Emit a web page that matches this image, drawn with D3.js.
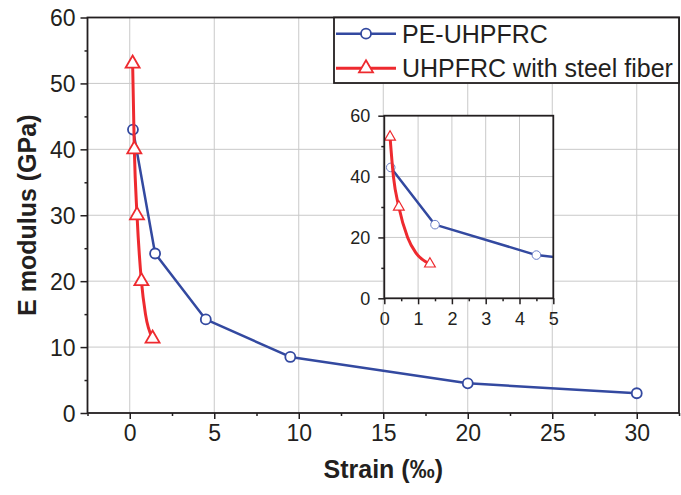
<!DOCTYPE html>
<html>
<head>
<meta charset="utf-8">
<script src="https://cdn.jsdelivr.net/npm/d3@7"></script>
<style>
  body { margin: 0; background: #fff; }
  text { font-family: Arial, "Liberation Sans", sans-serif; fill: #231f20; }
</style>
</head>
<body>
<svg id="chart" width="681" height="495"></svg>
<script>
// data
const seriesNames = ["PE-UHPFRC", "UHPFRC with steel fiber"];
const peStrain = [0.19, 1.5, 4.5, 9.5, 20, 30];
const peModulus = [43, 24.2, 14.2, 8.5, 4.5, 3.0];
const steelStrain = [0.17, 0.27, 0.43, 0.69, 0.93, 1.35];
const steelModulus = [53, 40, 30, 20, 15, 11.3];
const steelMarkersMain = [0, 1, 2, 3, 5];
const steelMarkersInset = [0, 2, 5];
const xTicks = [0, 5, 10, 15, 20, 25, 30];
const xMinor = [-2.5, 2.5, 7.5, 12.5, 17.5, 22.5, 27.5, 32.5];
const yTicks = [0, 10, 20, 30, 40, 50, 60];
const yMinor = [5, 15, 25, 35, 45, 55];
const insetXTicks = [0, 1, 2, 3, 4, 5];
const insetXMinor = [0.5, 1.5, 2.5, 3.5, 4.5];
const insetYTicks = [0, 20, 40, 60];
const insetYMinor = [10, 30, 50];

const BLUE = "#3349a0", RED = "#ee2a2f", GRID = "#c9c9c9", INK = "#231f20";

const pe = peStrain.map((x, i) => ({x: x, y: peModulus[i]}));
const steel = steelStrain.map((x, i) => ({x: x, y: steelModulus[i]}));

const svg = d3.select("#chart");

// ---------- main plot ----------
const margin = {left: 87.5, right: 2, top: 17.5, bottom: 82};
const W = 681, H = 495;
const x = d3.scaleLinear().domain([-2.5, 32.5]).range([margin.left, W - margin.right]);
const y = d3.scaleLinear().domain([0, 60]).range([H - margin.bottom, margin.top]);

const main = svg.append("g").attr("class", "main");

// grid
main.append("g").selectAll("line").data(xTicks).enter().append("line")
    .attr("x1", d => x(d)).attr("x2", d => x(d))
    .attr("y1", y(0)).attr("y2", y(60))
    .attr("stroke", GRID).attr("stroke-width", 1);
main.append("g").selectAll("line").data(yTicks.filter(d => d > 0 && d < 60)).enter().append("line")
    .attr("x1", x(-2.5)).attr("x2", x(32.5))
    .attr("y1", d => y(d)).attr("y2", d => y(d))
    .attr("stroke", GRID).attr("stroke-width", 1);

function styleAxis(g, fontSize) {
    g.select(".domain").remove();
    g.selectAll("line").attr("stroke", INK).attr("stroke-width", 1.5);
    g.selectAll("text").attr("font-size", fontSize).attr("fill", INK).style("font-family", "Arial, 'Liberation Sans', sans-serif");
}

const xAxis = main.append("g").attr("transform", "translate(0," + y(0) + ")")
    .call(d3.axisBottom(x).tickValues(xTicks).tickSize(6).tickPadding(6).tickFormat(d3.format("d")));
styleAxis(xAxis, 23);
const xAxisMinor = main.append("g").attr("transform", "translate(0," + y(0) + ")")
    .call(d3.axisBottom(x).tickValues(xMinor).tickSize(3).tickFormat(""));
styleAxis(xAxisMinor, 23);

const yAxis = main.append("g").attr("transform", "translate(" + x(-2.5) + ",0)")
    .call(d3.axisLeft(y).tickValues(yTicks).tickSize(7).tickPadding(5).tickFormat(d3.format("d")));
styleAxis(yAxis, 23);
yAxis.selectAll("text").attr("dy", "0.36em");
const yAxisMinor = main.append("g").attr("transform", "translate(" + x(-2.5) + ",0)")
    .call(d3.axisLeft(y).tickValues(yMinor).tickSize(3).tickFormat(""));
styleAxis(yAxisMinor, 23);

// frame
main.append("rect")
    .attr("x", x(-2.5)).attr("y", y(60))
    .attr("width", x(32.5) - x(-2.5)).attr("height", y(0) - y(60))
    .attr("fill", "none").attr("stroke", INK).attr("stroke-width", 1.8);

// axis titles
svg.append("text")
    .attr("x", (x(-2.5) + x(32.5)) / 2).attr("y", 478)
    .attr("text-anchor", "middle").attr("font-size", 25).attr("font-weight", "bold")
    .text("Strain (\u2030)");
svg.append("text")
    .attr("transform", "translate(36," + ((y(0) + y(60)) / 2) + ") rotate(-90)")
    .attr("text-anchor", "middle").attr("font-size", 25).attr("font-weight", "bold")
    .text("E modulus (GPa)");

const triangle = d3.symbol().type(d3.symbolTriangle);

function drawSeries(g, xs, ys, opts) {
    const line = d3.line().x(d => xs(d.x)).y(d => ys(d.y));
    // blue line + markers
    g.append("path").datum(pe)
        .attr("d", line)
        .attr("fill", "none").attr("stroke", BLUE).attr("stroke-width", opts.lw)
        .attr("stroke-linejoin", "round");
    g.append("g").selectAll("circle").data(pe).enter().append("circle")
        .attr("cx", d => xs(d.x)).attr("cy", d => ys(d.y)).attr("r", opts.r)
        .attr("fill", "#fff").attr("stroke", opts.circleStroke).attr("stroke-width", opts.circleSw);
    // red line + markers
    g.append("path").datum(steel)
        .attr("d", line.curve(d3.curveMonotoneX))
        .attr("fill", "none").attr("stroke", RED).attr("stroke-width", opts.lw + 0.5)
        .attr("stroke-linejoin", "round");
    g.append("g").selectAll("path").data(opts.steelMarkers.map(i => steel[i])).enter().append("path")
        .attr("transform", d => "translate(" + xs(d.x) + "," + ys(d.y) + ")")
        .attr("d", triangle.size(opts.triSize))
        .attr("fill", "#fff").attr("stroke", RED).attr("stroke-width", opts.triSw);
}

drawSeries(main.append("g"), x, y, {
    lw: 2.5, r: 5, circleStroke: BLUE, circleSw: 1.8,
    triSize: 85, triSw: 1.8, steelMarkers: steelMarkersMain
});

// ---------- inset ----------
const ix = d3.scaleLinear().domain([0, 5]).range([384.3, 553.3]);
const iy = d3.scaleLinear().domain([0, 60]).range([298.3, 115.7]);
const inset = svg.append("g").attr("class", "inset");

inset.append("rect")
    .attr("x", ix(0)).attr("y", iy(60))
    .attr("width", ix(5) - ix(0)).attr("height", iy(0) - iy(60))
    .attr("fill", "#fff");
inset.append("g").selectAll("line").data(insetXTicks.filter(d => d > 0 && d < 5)).enter().append("line")
    .attr("x1", d => ix(d)).attr("x2", d => ix(d))
    .attr("y1", iy(0)).attr("y2", iy(60))
    .attr("stroke", GRID).attr("stroke-width", 1);
inset.append("g").selectAll("line").data(insetYTicks.filter(d => d > 0 && d < 60)).enter().append("line")
    .attr("x1", ix(0)).attr("x2", ix(5))
    .attr("y1", d => iy(d)).attr("y2", d => iy(d))
    .attr("stroke", GRID).attr("stroke-width", 1);

svg.append("clipPath").attr("id", "insetClip").append("rect")
    .attr("x", ix(0)).attr("y", iy(60) - 8)
    .attr("width", ix(5) - ix(0)).attr("height", iy(0) - iy(60) + 8);

drawSeries(inset.append("g").attr("clip-path", "url(#insetClip)"), ix, iy, {
    lw: 2.5, r: 4.3, circleStroke: "#6b7fc7", circleSw: 1,
    triSize: 50, triSw: 1.2, steelMarkers: steelMarkersInset
});

const ixAxis = inset.append("g").attr("transform", "translate(0," + iy(0) + ")")
    .call(d3.axisBottom(ix).tickValues(insetXTicks).tickSize(6).tickPadding(8).tickFormat(d3.format("d")));
styleAxis(ixAxis, 18);
const ixAxisMinor = inset.append("g").attr("transform", "translate(0," + iy(0) + ")")
    .call(d3.axisBottom(ix).tickValues(insetXMinor).tickSize(3).tickFormat(""));
styleAxis(ixAxisMinor, 18);
const iyAxis = inset.append("g").attr("transform", "translate(" + ix(0) + ",0)")
    .call(d3.axisLeft(iy).tickValues(insetYTicks).tickSize(6).tickPadding(8).tickFormat(d3.format("d")));
styleAxis(iyAxis, 18);
const iyAxisMinor = inset.append("g").attr("transform", "translate(" + ix(0) + ",0)")
    .call(d3.axisLeft(iy).tickValues(insetYMinor).tickSize(3).tickFormat(""));
styleAxis(iyAxisMinor, 18);
inset.append("rect")
    .attr("x", ix(0)).attr("y", iy(60))
    .attr("width", ix(5) - ix(0)).attr("height", iy(0) - iy(60))
    .attr("fill", "none").attr("stroke", INK).attr("stroke-width", 1.8);

// ---------- legend ----------
const legend = svg.append("g").attr("class", "legend");
legend.append("rect")
    .attr("x", 334).attr("y", 17.5).attr("width", 345).attr("height", 65.5)
    .attr("fill", "#fff").attr("stroke", INK).attr("stroke-width", 1.8);
const rows = legend.selectAll("g.row").data(seriesNames).enter().append("g")
    .attr("class", "row")
    .attr("transform", (d, i) => "translate(0," + (33.7 + i * 34.6) + ")");
rows.append("line")
    .attr("x1", 336).attr("x2", 396).attr("y1", 0).attr("y2", 0)
    .attr("stroke", (d, i) => i === 0 ? BLUE : RED)
    .attr("stroke-width", (d, i) => i === 0 ? 2.5 : 3);
rows.filter((d, i) => i === 0).append("circle")
    .attr("cx", 366).attr("cy", 0).attr("r", 5)
    .attr("fill", "#fff").attr("stroke", BLUE).attr("stroke-width", 1.8);
rows.filter((d, i) => i === 1).append("path")
    .attr("transform", "translate(366,0)")
    .attr("d", triangle.size(85))
    .attr("fill", "#fff").attr("stroke", RED).attr("stroke-width", 1.8);
rows.append("text")
    .attr("x", 402).attr("y", 0).attr("dy", "0.36em")
    .attr("font-size", 25)
    .text(d => d);
</script>
</body>
</html>
